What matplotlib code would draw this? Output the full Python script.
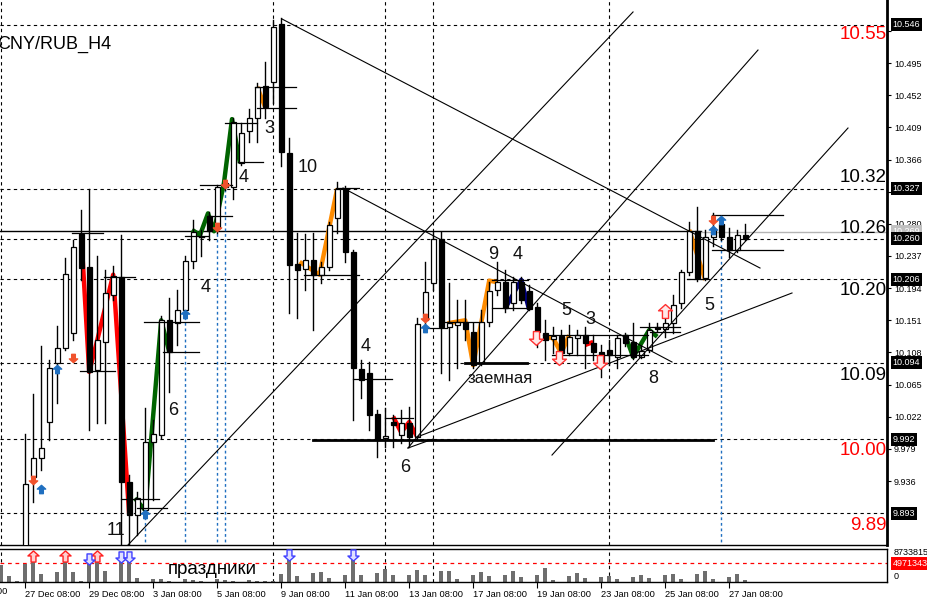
import numpy as np
import matplotlib.pyplot as plt
from matplotlib.patches import Rectangle
from matplotlib.path import Path
import matplotlib.transforms as mtrans

plt.rcParams['font.family'] = ['Liberation Sans', 'DejaVu Sans']

# ---- data (CNY/RUB H4), bars 3..93 ----
first_bar = 3
opens = [9.830, 9.941, 9.967, 10.015, 10.094, 10.114, 10.134, 10.267, 10.222, 10.084,
         10.122, 10.185, 10.209, 9.935, 9.891, 9.897, 9.988, 9.998, 10.151, 10.147,
         10.165, 10.230, 10.262, 10.290, 10.276, 10.329, 10.329, 10.361, 10.404, 10.421,
         10.464, 10.470, 10.547, 10.375, 10.226, 10.220, 10.232, 10.212, 10.222, 10.288,
         10.327, 10.242, 10.086, 10.080, 10.026, 9.994, 10.015, 9.998, 10.014, 9.995,
         10.151, 10.201, 10.260, 10.142, 10.145, 10.149, 10.135, 10.094, 10.149, 10.192,
         10.202, 10.174, 10.202, 10.190, 10.169, 10.134, 10.126, 10.130, 10.107, 10.127,
         10.131, 10.121, 10.109, 10.111, 10.102, 10.131, 10.122, 10.102, 10.111, 10.142,
         10.139, 10.147, 10.174, 10.216, 10.270, 10.208, 10.262, 10.280, 10.262, 10.245,
         10.265]
highs = [9.999, 10.052, 10.116, 10.098, 10.143, 10.234, 10.258, 10.298, 10.326, 10.237,
         10.218, 10.223, 10.265, 9.944, 9.921, 10.034, 10.018, 10.157, 10.181, 10.191,
         10.237, 10.285, 10.272, 10.296, 10.332, 10.339, 10.421, 10.415, 10.433, 10.468,
         10.496, 10.553, 10.555, 10.395, 10.268, 10.266, 10.268, 10.229, 10.282, 10.336,
         10.331, 10.245, 10.098, 10.095, 10.031, 10.034, 10.024, 10.031, 10.035, 10.154,
         10.229, 10.269, 10.269, 10.201, 10.178, 10.178, 10.148, 10.165, 10.202, 10.229,
         10.218, 10.209, 10.209, 10.198, 10.174, 10.151, 10.142, 10.138, 10.145, 10.138,
         10.142, 10.131, 10.118, 10.125, 10.131, 10.134, 10.147, 10.117, 10.147, 10.147,
         10.157, 10.185, 10.218, 10.282, 10.303, 10.272, 10.295, 10.289, 10.274, 10.272,
         10.280]
lows = [9.825, 9.908, 9.951, 9.991, 10.040, 10.111, 10.124, 10.205, 10.004, 10.013,
        10.013, 10.178, 9.850, 9.851, 9.864, 9.891, 9.911, 9.993, 10.055, 10.118,
        10.158, 10.221, 10.237, 10.258, 10.268, 10.325, 10.313, 10.359, 10.389, 10.389,
        10.421, 10.442, 10.357, 10.161, 10.154, 10.191, 10.138, 10.201, 10.218, 10.268,
        10.229, 10.018, 10.047, 10.004, 9.968, 9.982, 9.982, 9.987, 9.982, 9.991,
        10.138, 10.192, 10.080, 10.071, 10.087, 10.125, 10.087, 10.091, 10.143, 10.185,
        10.162, 10.165, 10.174, 10.165, 10.115, 10.098, 10.107, 10.094, 10.105, 10.105,
        10.087, 10.098, 10.075, 10.091, 10.087, 10.117, 10.099, 10.101, 10.108, 10.135,
        10.129, 10.134, 10.167, 10.212, 10.204, 10.205, 10.250, 10.258, 10.236, 10.242,
        10.258]
closes = [9.932, 9.967, 9.980, 10.087, 10.114, 10.213, 10.249, 10.221, 10.082, 10.124,
          10.187, 10.210, 9.935, 9.891, 9.913, 9.988, 9.999, 10.151, 10.109, 10.165,
          10.230, 10.269, 10.263, 10.270, 10.329, 10.335, 10.416, 10.401, 10.421, 10.463,
          10.436, 10.543, 10.376, 10.225, 10.218, 10.232, 10.212, 10.222, 10.278, 10.327,
          10.242, 10.087, 10.071, 10.024, 9.991, 9.996, 10.011, 10.014, 9.995, 10.146,
          10.189, 10.260, 10.142, 10.147, 10.149, 10.139, 10.091, 10.149, 10.190, 10.202,
          10.167, 10.202, 10.178, 10.166, 10.135, 10.125, 10.130, 10.107, 10.129, 10.131,
          10.121, 10.109, 10.095, 10.105, 10.127, 10.121, 10.102, 10.110, 10.138, 10.139,
          10.147, 10.171, 10.216, 10.270, 10.208, 10.262, 10.272, 10.262, 10.245, 10.265,
          10.260]

# volume, bars 0..93
volumes = [4540000, 1660000, 350000, 4800000, 5840000, 2180000, 0, 2700000, 5410000, 2700000,
           350000, 4800000, 5840000, 2970000, 0, 7410000, 7410000, 1130000, 0, 870000,
           870000, 350000, 0, 870000, 610000, 350000, 0, 870000, 610000, 350000,
           0, 610000, 350000, 350000, 350000, 2180000, 6720000, 1660000, 0, 2440000,
           2700000, 1130000, 0, 1920000, 7150000, 1920000, 0, 2440000, 3490000, 1920000,
           0, 1920000, 3230000, 1920000, 0, 2970000, 2970000, 870000, 0, 1920000,
           2700000, 1660000, 0, 1920000, 2970000, 1400000, 0, 1920000, 3750000, 610000,
           0, 1660000, 2440000, 1130000, 0, 1400000, 1660000, 870000, 0, 1400000,
           1920000, 1130000, 0, 1920000, 2180000, 870000, 0, 2180000, 2970000, 870000,
           0, 1400000, 2180000, 610000]
vol_max = 8733815
vol_avg = 4971343

date_ticks = [3, 11, 19, 27, 35, 43, 51, 59, 67, 75, 83, 91]
date_labels = ["27 Dec 08:00", "29 Dec 08:00", "3 Jan 08:00", "5 Jan 08:00", "9 Jan 08:00",
               "11 Jan 08:00", "13 Jan 08:00", "17 Jan 08:00", "19 Jan 08:00", "23 Jan 08:00",
               "25 Jan 08:00", "27 Jan 08:00"]

price_ticks = [9.936, 9.979, 10.022, 10.065, 10.108, 10.151, 10.194, 10.237, 10.280,
               10.323, 10.366, 10.409, 10.452, 10.495, 10.538]
hidden_ticks = [10.323, 10.538]   # covered by the boxed level labels
level_prices = [10.546, 10.327, 10.260, 10.206, 10.094, 9.992, 9.893]
big_labels = ["10.55", "10.32", "10.26", "10.20", "10.09", "10.00", "9.89"]
big_label_y = [10.5325, 10.3426, 10.2744, 10.1902, 10.0778, 9.9775, 9.8772]
big_label_col = ["#ff0000", "black", "black", "black", "black", "#ff0000", "#ff0000"]

vlines_dashed = [0, 34, 48, 54, 76]
blue_vlines = [(18, 9.893), (23, 10.159), (27, 10.274), (28, 10.329), (90, 10.285)]

trend_lines = [((35.1, 10.5539), (94.85, 10.2209)),
               ((42.73, 10.3279), (83.85, 10.0952)),
               ((15.85, 9.8505), (78.98, 10.5633)),
               ((51.975, 9.9949), (94.6, 10.5124)),
               ((51.975, 9.9949), (98.85, 10.1875)),
               ((68.85, 9.9708), (105.85, 10.4081)),
               ((50.85, 9.9802), (51.975, 9.9949)),
               ((50.85, 9.9802), (53.975, 9.9922))]

short_levels = [(29.6, 32.7, 10.362), (31.7, 36.85, 10.463), (32.0, 36.85, 10.435),
                (28.0, 32.0, 10.415), (24.85, 28.85, 10.332), (25.85, 28.85, 10.290),
                (23.0, 25.85, 10.264), (8.85, 12.7, 10.268), (12.85, 16.7, 10.209),
                (9.85, 14.2, 10.083), (17.85, 24.7, 10.149), (20.2, 24.7, 10.109),
                (15.0, 19.7, 9.912), (17.0, 20.7, 9.900), (41.85, 44.7, 10.328),
                (37.85, 44.7, 10.212), (44.0, 48.85, 10.073), (48.0, 51.5, 10.020),
                (55.5, 59.85, 10.149), (53.35, 55.7, 10.141), (61.35, 65.85, 10.205),
                (61.35, 65.85, 10.167), (67.7, 80.85, 10.131), (68.85, 80.85, 10.105),
                (79.85, 84.85, 10.142), (81.1, 84.85, 10.135), (88.85, 97.7, 10.292),
                (88.85, 97.7, 10.245), (85.7, 88.2, 10.206)]
thick_levels = [(38.98, 88.98, 9.9909), (57.98, 65.73, 10.0939)]

zigzags = [("#ff0000", [(10, 10.267), (11, 10.082), (12, 10.124), (14, 10.212), (16, 9.891)]),
           ("#006400", [(16.7, 9.913), (18, 9.897), (20, 10.151), (21, 10.109)]),
           ("#006400", [(23.85, 10.272), (24.85, 10.265), (25.85, 10.294), (26.6, 10.27),
                        (27.85, 10.335), (28.85, 10.420), (29.85, 10.361)]),
           ("#ff8c00", [(32, 10.463), (33, 10.436)]),
           ("#ff8c00", [(37.3, 10.229), (39.8, 10.212), (42, 10.327)]),
           ("#ff0000", [(49, 10.022), (50, 10.001), (51, 10.015), (52, 9.995)]),
           ("#ff8c00", [(55.8, 10.147), (58, 10.151), (59, 10.091), (61, 10.204), (62, 10.202)]),
           ("#000080", [(63, 10.167), (65, 10.205), (66, 10.165)]),
           ("#ff8c00", [(67.8, 10.129), (69, 10.127), (70, 10.107), (71, 10.131)]),
           ("#ff0000", [(73, 10.118), (74, 10.122)]),
           ("#006400", [(78, 10.131), (79, 10.102), (81, 10.138), (82, 10.129)]),
           ("#ff8c00", [(86, 10.272), (88, 10.205)])]

wave_labels = [("10", 38.35, 10.3547), ("4", 30.35, 10.3426), ("3", 33.5, 10.4068),
               ("4", 25.5, 10.1955), ("6", 21.5, 10.0310), ("11", 14.35, 9.8705),
               ("4", 45.6, 10.1153), ("6", 50.5, 9.9548), ("9", 61.5, 10.2396),
               ("4", 64.5, 10.2396), ("5", 70.6, 10.1647), ("3", 73.6, 10.1514),
               ("8", 81.5, 10.0738), ("5", 88.5, 10.1714), ("заемная", 62.35, 10.0738)]

red_dn = [(4, 9.937), (9, 10.100), (27, 10.276), (28, 10.333), (53, 10.154), (89, 10.285)]
blue_up = [(5, 9.925), (7, 10.086), (18, 9.892), (23, 10.159), (53, 10.141), (89, 10.272), (90, 10.285)]
hollow_dn = [(66.9, 10.127), (69.7, 10.100), (74.9, 10.095)]
hollow_up = [(83, 10.163)]
vol_up = [(4, 6900000), (8, 6900000), (12, 6900000)]
vol_dn = [(11, 6100000), (15, 6700000), (16, 6700000), (36, 7150000), (44, 7150000)]


def arrow(up=True):
    v = [(-0.22, -0.5), (0.22, -0.5), (0.22, 0.05), (0.5, 0.05), (0, 0.5),
         (-0.5, 0.05), (-0.22, 0.05), (-0.22, -0.5)]
    if not up:
        v = [(x, -y) for x, y in v]
    return Path(v, closed=True)


fig = plt.figure(figsize=(9.27, 6.07), dpi=100)
W, H = 927, 607
ax = fig.add_axes([0, 1 - 545 / H, 887 / W, 545 / H])
axv = fig.add_axes([0, 1 - 582 / H, 887 / W, 33 / H])
xmin, xmax = -0.15, 110.725
ax.set_xlim(xmin, xmax)
ax.set_ylim(9.8505, 10.5793)
axv.set_xlim(xmin, xmax)
axv.set_ylim(0, vol_max)

dash = (0, (3, 3))
for p in level_prices:
    ax.axhline(p, color="black", lw=0.8, ls=dash, zorder=1)
for b in vlines_dashed:
    ax.axvline(b, color="black", lw=0.8, ls=dash, zorder=1)
    axv.axvline(b, color="black", lw=0.8, ls=dash, zorder=1)
# horizontal line and bid line
ax.plot([xmin, 87.5], [10.2704, 10.2704], color="black", lw=1.0, zorder=1)
ax.plot([87.5, xmax], [10.2695, 10.2695], color="#b4b4b4", lw=1.0, zorder=1)
for b, top in blue_vlines:
    ax.plot([b, b], [9.84, top], color="#1f6fc0", lw=1, ls=(0, (2, 2)), zorder=2)

for col, pts in zigzags:
    xs, ys = zip(*pts)
    ax.plot(xs, ys, color=col, lw=3.2, zorder=2, solid_capstyle="butt")

# candles
for i in range(len(opens)):
    b = first_bar + i
    o, h, l, c = opens[i], highs[i], lows[i], closes[i]
    ax.plot([b, b], [l, h], color="black", lw=1, zorder=3)
    bull = c >= o
    lo, hi = min(o, c), max(o, c)
    if hi - lo < 0.002:
        ax.plot([b - 0.3, b + 0.3], [c, c], color="black", lw=1, zorder=4)
    else:
        ax.add_patch(Rectangle((b - 0.3, lo), 0.6, hi - lo, fc="white" if bull else "black",
                               ec="black", lw=0.9, zorder=4))

for (x0, y0), (x1, y1) in trend_lines:
    ax.plot([x0, x1], [y0, y1], color="black", lw=0.8, zorder=5)
for x0, x1, y in short_levels:
    ax.plot([x0, x1], [y, y], color="black", lw=0.9, zorder=5)
for x0, x1, y in thick_levels:
    ax.plot([x0, x1], [y, y], color="black", lw=2.0, zorder=5)

for x, y in red_dn:
    ax.plot(x, y, marker=arrow(False), ms=6, color="#f0522c", mec="#f0522c", zorder=6)
for x, y in blue_up:
    ax.plot(x, y, marker=arrow(True), ms=6, color="#1f6fc0", mec="#1f6fc0", zorder=6)
for x, y in hollow_dn:
    ax.plot(x, y, marker=arrow(False), ms=10, mfc="#ffe8e8", mec="#ff3030", mew=1, zorder=6)
for x, y in hollow_up:
    ax.plot(x, y, marker=arrow(True), ms=10, mfc="#ffe8e8", mec="#ff3030", mew=1, zorder=6)

for t, x, y in wave_labels:
    ax.text(x, y, t, fontsize=13 if t != "заемная" else 12, ha="center", va="center",
            color="#111111", zorder=7)
ax.text(-0.45, 10.5205, "CNY/RUB_H4", fontsize=13, ha="left", va="center", color="black")

for t, y, col in zip(big_labels, big_label_y, big_label_col):
    ax.text(xmax - 0.05, y, t, fontsize=13.5, ha="right", va="center", color=col, zorder=7)

# right price scale
ax.yaxis.tick_right()
ax.set_yticks(price_ticks)
ax.set_yticklabels(["" if p in hidden_ticks else f"{p:.3f}" for p in price_ticks])
ax.tick_params(axis="y", length=3, width=0.8, labelsize=6.5, pad=2)
ax.set_xticks([])
bt = mtrans.blended_transform_factory(ax.transAxes, ax.transData)
for p in level_prices:
    ax.text(1.0065, p, f"{p:.3f}", transform=bt, fontsize=6.5, color="white", va="center",
            ha="left", bbox=dict(boxstyle="square,pad=0.22", fc="black", ec="none"),
            clip_on=False, zorder=8)
ax.text(1.0065, 10.2695, "10.269", transform=bt, fontsize=6.5, color="white", va="center",
        ha="left", bbox=dict(boxstyle="square,pad=0.22", fc="#c0c0c0", ec="none"),
        clip_on=False, zorder=7)
for s in ["top", "left"]:
    ax.spines[s].set_visible(False)
ax.spines["right"].set_linewidth(2)
ax.spines["bottom"].set_linewidth(1)

# volume panel
axv.bar(range(len(volumes)), volumes, width=0.5, color="#6e6e6e", zorder=2)
axv.axhline(vol_avg, color="#ff0000", lw=0.9, ls=(0, (3, 3)), zorder=1)
for x, y in vol_up:
    axv.plot(x, y, marker=arrow(True), ms=8, mfc="#ffd0d0", mec="#ff2020", mew=1,
             zorder=4, clip_on=False)
for x, y in vol_dn:
    axv.plot(x, y, marker=arrow(False), ms=8, mfc="#e0e0ff", mec="#4040ff", mew=1,
             zorder=4, clip_on=False)
axv.text(26.4, 3300000, "праздники", fontsize=13.5, ha="center", va="center", zorder=5)
axv.set_yticks([])
axv.set_xticks(date_ticks)
axv.set_xticklabels(date_labels, ha="left", fontsize=6.7)
axv.tick_params(axis="x", length=4, width=0.8, pad=2)
axv.spines["left"].set_visible(False)
for s in ["top", "bottom", "right"]:
    axv.spines[s].set_linewidth(1)
bv = mtrans.blended_transform_factory(axv.transAxes, axv.transData)
axv.text(1.007, vol_max * 0.88, "8733815", transform=bv, fontsize=6.5, va="center", clip_on=False)
axv.text(1.007, vol_avg, "4971343", transform=bv, fontsize=6.5, color="white", va="center",
         bbox=dict(boxstyle="square,pad=0.2", fc="#ff0000", ec="none"), clip_on=False)
axv.text(1.007, vol_max * 0.17, "0", transform=bv, fontsize=6.5, va="center", clip_on=False)
fig.text(7 / W, 1 - 592 / H, "26 Dec 08:00", fontsize=6.7, ha="right", va="center")

fig.savefig("out.png", dpi=100)
